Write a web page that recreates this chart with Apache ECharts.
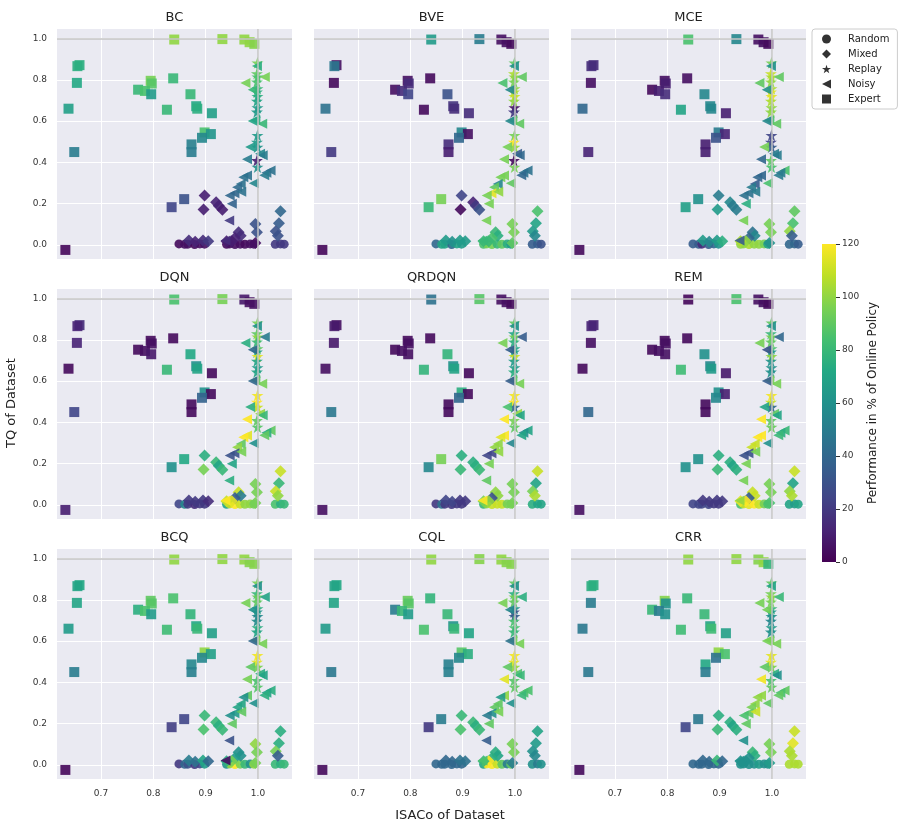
<!DOCTYPE html>
<html>
<head>
<meta charset="utf-8">
<script src="https://cdn.jsdelivr.net/npm/echarts@6/dist/echarts.min.js"></script>
<style>
  html, body { margin: 0; padding: 0; background: #fff; }
  #main { width: 900px; height: 830px; }
</style>
</head>
<body>
<div id="main"></div>
<script>
// panels (one per algorithm), axis ticks, colour bar
var algos = ['BC', 'BVE', 'MCE', 'DQN', 'QRDQN', 'REM', 'BCQ', 'CQL', 'CRR'];
var xTicks = [0.7, 0.8, 0.9, 1.0];
var yTicks = [0.0, 0.2, 0.4, 0.6, 0.8, 1.0];
var refLine = 1.0;
var cbarMax = 120;

// dataset positions (same in every panel): ISACo (x) and TQ (y)
var randomX = [0.849, 0.860, 0.866, 0.879, 0.889, 0.898, 0.940, 0.946, 0.956, 0.966, 0.975, 0.985, 0.992, 1.033, 1.043, 1.050];
var randomY = [0.005, 0.003, 0.004, 0.002, 0.005, 0.004, 0.003, 0.005, 0.002, 0.004, 0.003, 0.005, 0.004, 0.003, 0.005, 0.004];

var mixedX = [0.898, 0.920, 0.925, 0.932, 0.896, 1.043, 1.040, 1.034, 1.038, 0.995, 0.998, 0.963, 0.967, 0.956, 0.950, 0.868, 0.880, 0.895, 0.905, 0.940, 0.995];
var mixedY = [0.239, 0.207, 0.190, 0.170, 0.172, 0.163, 0.105, 0.066, 0.045, 0.102, 0.061, 0.061, 0.045, 0.034, 0.018, 0.021, 0.015, 0.021, 0.018, 0.018, 0.010];

var replayX = [0.999, 0.998, 0.999, 0.998, 0.999, 0.998, 0.999, 0.998, 0.999, 0.998, 0.999, 0.998, 0.999, 0.998, 0.999];
var replayY = [0.882, 0.830, 0.814, 0.790, 0.757, 0.741, 0.720, 0.697, 0.665, 0.644, 0.531, 0.498, 0.474, 0.409, 0.377];

var noisyX = [0.998, 1.013, 0.976, 0.990, 0.995, 1.008, 0.990, 0.985, 1.004, 1.009, 0.979, 1.024, 1.016, 1.012, 0.992, 0.979, 0.972, 0.967, 0.960, 0.955, 0.946, 0.968, 0.950, 0.945, 0.938];
var noisyY = [0.867, 0.814, 0.785, 0.752, 0.604, 0.587, 0.600, 0.474, 0.442, 0.434, 0.415, 0.361, 0.350, 0.338, 0.299, 0.337, 0.328, 0.295, 0.280, 0.250, 0.240, 0.258, 0.200, 0.118, 0.022];

var expertX = [0.840, 0.932, 0.974, 0.984, 0.993, 0.659, 0.655, 0.654, 0.638, 0.649, 0.632, 0.795, 0.797, 0.771, 0.784, 0.796, 0.838, 0.871, 0.826, 0.882, 0.884, 0.912, 0.898, 0.910, 0.893, 0.873, 0.873, 0.859, 0.835];
var expertY = [0.995, 0.997, 0.995, 0.982, 0.974, 0.871, 0.866, 0.785, 0.660, 0.450, -0.024, 0.795, 0.782, 0.752, 0.746, 0.730, 0.807, 0.730, 0.655, 0.672, 0.660, 0.638, 0.545, 0.537, 0.519, 0.487, 0.450, 0.222, 0.183];

// performance in % of online policy, one row per algorithm (same order as algos)
var randomPerf = [
  [3, 5, 5, 3, 5, 5, 3, 5, 5, 5, 3, 5, 5, 20, 20, 20],
  [40, 70, 70, 40, 70, 65, 85, 95, 95, 80, 90, 75, 65, 35, 35, 30],
  [35, 35, 15, 35, 40, 60, 100, 100, 105, 100, 100, 95, 70, 40, 40, 35],
  [25, 55, 20, 15, 20, 20, 70, 110, 120, 110, 100, 100, 95, 85, 75, 80],
  [20, 45, 20, 20, 20, 20, 80, 100, 110, 110, 110, 95, 95, 75, 70, 70],
  [25, 25, 25, 25, 20, 20, 85, 110, 115, 120, 110, 95, 85, 70, 65, 70],
  [20, 40, 30, 20, 25, 65, 60, 100, 120, 95, 80, 60, 100, 80, 75, 80],
  [40, 40, 40, 40, 40, 40, 70, 120, 120, 110, 90, 50, 90, 60, 50, 60],
  [40, 40, 40, 40, 40, 40, 60, 60, 60, 60, 65, 60, 60, 105, 105, 105]
];
var mixedPerf = [
  [10, 12, 12, 10, 10, 40, 35, 30, 30, 30, 30, 15, 15, 12, 10, 15, 12, 15, 20, 10, 5],
  [25, 12, 20, 30, 3, 85, 70, 65, 55, 95, 95, 80, 75, 85, 80, 65, 60, 65, 65, 80, 90],
  [50, 55, 50, 50, 65, 90, 85, 100, 35, 95, 95, 45, 55, 40, 100, 65, 55, 65, 75, 105, 60],
  [75, 80, 70, 80, 95, 110, 80, 110, 100, 95, 95, 110, 50, 35, 115, 20, 20, 20, 15, 110, 95],
  [75, 75, 75, 80, 80, 110, 70, 95, 105, 95, 95, 100, 100, 30, 100, 25, 25, 20, 20, 95, 95],
  [75, 75, 70, 75, 80, 110, 70, 100, 105, 95, 95, 110, 110, 35, 120, 20, 20, 20, 20, 115, 85],
  [80, 80, 75, 80, 85, 75, 75, 95, 35, 100, 95, 60, 60, 65, 95, 50, 45, 70, 40, 75, 95],
  [80, 80, 75, 80, 85, 70, 65, 60, 55, 95, 95, 75, 70, 75, 120, 40, 40, 45, 45, 80, 50],
  [75, 75, 70, 75, 80, 110, 115, 105, 105, 95, 95, 80, 75, 60, 60, 40, 40, 80, 40, 60, 65]
];
var replayPerf = [
  [95, 90, 85, 85, 80, 75, 75, 70, 65, 65, 65, 65, 62, 10, 60],
  [90, 105, 100, 95, 100, 105, 110, 100, 5, 20, 95, 120, 100, 3, 95],
  [95, 110, 105, 100, 105, 115, 115, 105, 100, 100, 25, 25, 35, 90, 85],
  [95, 90, 100, 80, 90, 70, 115, 70, 65, 70, 118, 120, 110, 90, 88],
  [90, 70, 95, 75, 70, 70, 110, 65, 65, 75, 118, 120, 40, 95, 90],
  [90, 80, 95, 90, 85, 60, 100, 60, 60, 60, 118, 110, 40, 90, 92],
  [95, 80, 92, 90, 75, 60, 55, 58, 75, 70, 118, 115, 95, 85, 88],
  [90, 75, 95, 90, 60, 30, 35, 85, 85, 80, 118, 115, 100, 88, 90],
  [90, 95, 100, 95, 80, 65, 60, 55, 65, 60, 115, 115, 95, 85, 90]
];
var noisyPerf = [
  [75, 95, 95, 80, 75, 80, 70, 65, 55, 50, 50, 45, 45, 50, 55, 45, 45, 45, 42, 40, 40, 45, 38, 20, 15],
  [60, 90, 85, 55, 90, 90, 55, 95, 35, 40, 95, 45, 45, 40, 90, 95, 95, 55, 90, 115, 95, 100, 95, 95, 80],
  [60, 90, 90, 60, 85, 90, 55, 95, 50, 50, 40, 85, 50, 50, 85, 40, 40, 35, 50, 45, 45, 50, 75, 95, 35],
  [60, 50, 75, 40, 90, 95, 40, 75, 100, 80, 120, 90, 75, 90, 60, 115, 120, 90, 100, 30, 30, 95, 70, 75, 120],
  [60, 35, 95, 35, 90, 95, 35, 85, 100, 70, 120, 70, 60, 70, 55, 120, 115, 100, 100, 25, 25, 100, 95, 90, 120],
  [60, 40, 95, 30, 95, 95, 35, 70, 90, 70, 120, 80, 75, 80, 60, 120, 120, 110, 110, 30, 30, 95, 95, 95, 100],
  [60, 70, 95, 60, 95, 95, 40, 90, 75, 70, 95, 75, 70, 75, 60, 90, 60, 70, 70, 65, 60, 90, 90, 30, 5],
  [60, 75, 95, 55, 95, 95, 45, 90, 85, 80, 115, 85, 85, 80, 60, 100, 65, 90, 90, 60, 50, 95, 90, 35, 85],
  [70, 80, 95, 95, 95, 95, 95, 90, 75, 60, 118, 90, 85, 90, 90, 100, 100, 100, 95, 90, 85, 110, 90, 60, 60]
];
var expertPerf = [
  [100, 100, 100, 100, 98, 75, 75, 72, 68, 50, 2, 95, 88, 80, 85, 65, 80, 80, 80, 72, 75, 68, 85, 62, 55, 52, 50, 30, 25],
  [65, 50, 5, 5, 3, 5, 48, 3, 45, 20, 2, 5, 15, 5, 15, 25, 3, 30, 3, 18, 15, 15, 55, 5, 40, 15, 10, 95, 80],
  [85, 55, 5, 5, 3, 15, 15, 5, 40, 12, 3, 5, 10, 3, 10, 15, 5, 55, 70, 55, 55, 10, 50, 12, 30, 10, 10, 60, 68],
  [85, 95, 8, 5, 5, 15, 12, 12, 3, 25, 10, 3, 5, 3, 5, 8, 3, 72, 80, 60, 70, 3, 60, 3, 38, 3, 3, 72, 60],
  [45, 88, 5, 5, 3, 5, 8, 8, 5, 48, 5, 3, 5, 3, 5, 5, 3, 78, 78, 60, 70, 3, 75, 3, 40, 3, 3, 95, 55],
  [2, 85, 5, 5, 3, 12, 12, 5, 3, 40, 5, 3, 5, 3, 5, 5, 3, 60, 82, 55, 65, 8, 60, 10, 55, 3, 3, 60, 60],
  [100, 100, 100, 98, 98, 72, 70, 70, 65, 50, 2, 90, 88, 75, 85, 65, 85, 78, 82, 72, 80, 68, 100, 68, 55, 55, 52, 25, 22],
  [100, 98, 100, 98, 98, 72, 70, 70, 65, 48, 3, 92, 88, 50, 80, 65, 78, 80, 85, 62, 80, 70, 88, 75, 55, 52, 52, 50, 20],
  [100, 100, 98, 100, 78, 75, 75, 50, 48, 48, 3, 98, 60, 80, 50, 60, 80, 80, 82, 70, 82, 68, 100, 85, 45, 72, 50, 48, 25]
];

var viridis = ['#440154', '#482475', '#414487', '#355f8d', '#2a788e', '#21918c',
               '#22a884', '#44bf70', '#7ad151', '#bddf26', '#fde725'];

var starPath = 'path://M10,0L12.245,6.91L19.51,6.91L13.63,11.18L15.88,18.09L10,13.82L4.12,18.09L6.37,11.18L0.49,6.91L7.755,6.91Z';
var leftTri = 'path://M0,5L10,0L10,10Z';

var types = [
  { name: 'Random', xs: randomX, ys: randomY, perf: randomPerf, symbol: 'circle', size: 9 },
  { name: 'Mixed', xs: mixedX, ys: mixedY, perf: mixedPerf, symbol: 'diamond', size: 12 },
  { name: 'Replay', xs: replayX, ys: replayY, perf: replayPerf, symbol: starPath, size: 12 },
  { name: 'Noisy', xs: noisyX, ys: noisyY, perf: noisyPerf, symbol: leftTri, size: 10 },
  { name: 'Expert', xs: expertX, ys: expertY, perf: expertPerf, symbol: 'rect', size: 10 }
];

var font = 'DejaVu Sans';
var lefts = [57, 314, 571], tops = [29, 289, 549];
var pw = 235, ph = 230;

var grids = [], xAxes = [], yAxes = [], series = [], graphics = [], scatterIdx = [];

algos.forEach(function (algo, i) {
  var r = Math.floor(i / 3), c = i % 3;
  grids.push({ left: lefts[c], top: tops[r], width: pw, height: ph,
               show: true, backgroundColor: '#eaeaf2', borderWidth: 0 });
  xAxes.push({
    gridIndex: i, type: 'value', min: 0.616, max: 1.065,
    axisLine: { show: false },
    axisTick: { show: false, customValues: xTicks },
    axisLabel: { show: r === 2, customValues: xTicks, fontSize: 9, color: '#333', margin: 10,
                 fontFamily: font, formatter: function (v) { return v.toFixed(1); } },
    splitLine: { show: true, lineStyle: { color: '#fff', width: 1 } }
  });
  yAxes.push({
    gridIndex: i, type: 'value', min: -0.068, max: 1.046,
    axisLine: { show: false },
    axisTick: { show: false, customValues: yTicks },
    axisLabel: { show: c === 0, customValues: yTicks, fontSize: 9, color: '#333', margin: 10,
                 fontFamily: font, formatter: function (v) { return v.toFixed(1); } },
    splitLine: { show: true, lineStyle: { color: '#fff', width: 1 } }
  });
  graphics.push({ type: 'text', x: lefts[c] + pw / 2, y: tops[r] - 11,
                  style: { text: algo, align: 'center', verticalAlign: 'middle',
                           fontSize: 13, fill: '#222', fontFamily: font } });

  types.forEach(function (t, k) {
    var s = {
      type: 'scatter', name: algo + ' ' + t.name, xAxisIndex: i, yAxisIndex: i,
      symbol: t.symbol, symbolSize: t.size,
      itemStyle: { opacity: 0.9 },
      data: t.xs.map(function (x, j) { return [x, t.ys[j], t.perf[i][j]]; })
    };
    if (k === 0) {
      s.markLine = {
        silent: true, symbol: ['none', 'none'], label: { show: false },
        lineStyle: { color: '#c4c4c4', width: 1.5, type: 'solid' },
        data: [{ xAxis: refLine }, { yAxis: refLine }]
      };
    }
    scatterIdx.push(series.length);
    series.push(s);
  });
});

// colour bar grid
var cb = algos.length;
grids.push({ left: 822, top: 244, width: 14, height: 318 });
xAxes.push({ gridIndex: cb, type: 'category', data: ['cb'], show: false });
yAxes.push({
  gridIndex: cb, type: 'value', min: 0, max: cbarMax, interval: 20, position: 'right',
  axisLine: { show: false },
  axisTick: { show: true, length: 4, lineStyle: { color: '#333' } },
  axisLabel: { fontSize: 9, color: '#333', margin: 6, fontFamily: font },
  splitLine: { show: false }
});
series.push({
  type: 'bar', name: 'colorbar', xAxisIndex: cb, yAxisIndex: cb, barWidth: '100%',
  silent: true, data: [cbarMax],
  itemStyle: {
    color: new echarts.graphic.LinearGradient(0, 1, 0, 0, viridis.map(function (col, j) {
      return { offset: j / (viridis.length - 1), color: col };
    }))
  }
});

// legend entries (black markers)
types.forEach(function (t) {
  series.push({ type: 'scatter', name: t.name, xAxisIndex: 0, yAxisIndex: 0,
                symbol: t.symbol, itemStyle: { color: '#000' }, data: [] });
});

graphics.push({ type: 'text', x: 450, y: 816,
  style: { text: 'ISACo of Dataset', align: 'center', verticalAlign: 'middle', fontSize: 13, fill: '#222', fontFamily: font } });
graphics.push({ type: 'text', x: 12, y: 403, rotation: Math.PI / 2,
  style: { text: 'TQ of Dataset', align: 'center', verticalAlign: 'middle', fontSize: 13, fill: '#222', fontFamily: font } });
graphics.push({ type: 'text', x: 873, y: 403, rotation: Math.PI / 2,
  style: { text: 'Performance in % of Online Policy', align: 'center', verticalAlign: 'middle', fontSize: 12, fill: '#222', fontFamily: font } });

var myChart = echarts.init(document.getElementById('main'));
var option = {
  animation: false,
  textStyle: { fontFamily: font },
  grid: grids,
  xAxis: xAxes,
  yAxis: yAxes,
  visualMap: {
    show: false, type: 'continuous', min: 0, max: cbarMax, dimension: 2,
    seriesIndex: scatterIdx, inRange: { color: viridis }
  },
  legend: {
    orient: 'vertical', left: 812, top: 29,
    data: [
      { name: 'Random', icon: 'circle' },
      { name: 'Mixed', icon: 'diamond' },
      { name: 'Replay', icon: starPath },
      { name: 'Noisy', icon: leftTri },
      { name: 'Expert', icon: 'rect' }
    ],
    itemWidth: 9, itemHeight: 9, itemGap: 5,
    textStyle: { fontSize: 10, color: '#222', fontFamily: font, padding: [0, 0, 0, 12] },
    borderColor: '#cccccc', borderWidth: 1, borderRadius: 3, padding: [5, 8, 5, 10],
    backgroundColor: '#fff'
  },
  graphic: graphics,
  series: series
};
myChart.setOption(option);
</script>
</body>
</html>
